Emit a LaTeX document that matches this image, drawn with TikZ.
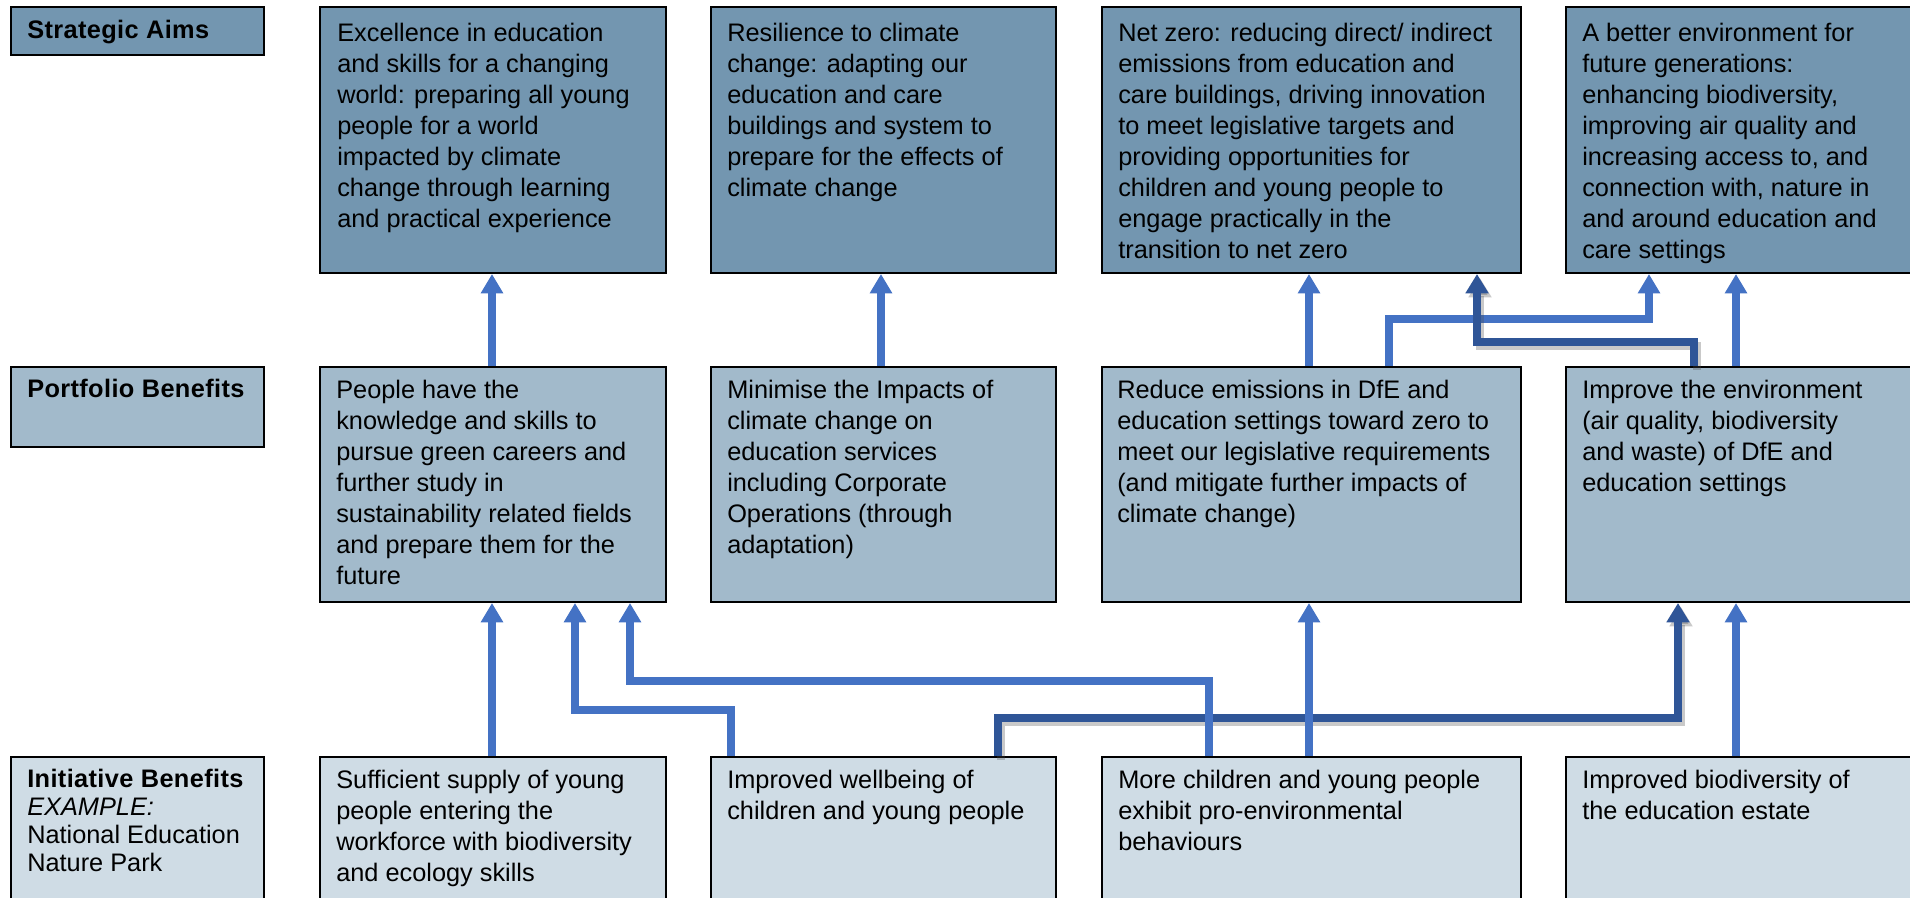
\documentclass[tikz,border=0pt]{standalone}
\usepackage{fontspec}
\setmainfont{Liberation Sans}
\usetikzlibrary{arrows.meta,calc,fit}
\definecolor{saC}{HTML}{7396B0}
\definecolor{pbC}{HTML}{A2BACB}
\definecolor{ibC}{HTML}{CFDCE5}
\definecolor{ltC}{HTML}{4472C4}
\definecolor{dkC}{HTML}{2F5597}
\begin{document}
\begin{tikzpicture}[x=0.75pt,y=-0.75pt,
  box/.style={draw=black, line width=1.5pt, inner sep=0pt, rectangle},
  txt/.style={anchor=north west, inner sep=0pt, align=left, font=\fontsize{19pt}{23.25pt}\selectfont},
  lbl/.style={anchor=north west, inner sep=0pt, align=left, font=\fontsize{19pt}{21pt}\selectfont},
  lt/.style={draw=ltC, line width=5.5pt, -{Triangle[width=16pt,length=14.5pt]}},
  dk/.style={draw=dkC, line width=6pt, -{Triangle[width=16.5pt,length=14.5pt]}},
  dksh/.style={draw=black!70, opacity=0.3, line width=6pt, -{Triangle[width=16.5pt,length=14.5pt]}, transform canvas={shift={(3,4)}}}
]
\useasboundingbox (0,0) rectangle (1910,898);
\clip (0,0) rectangle (1910,898);

% label boxes
\node[box, fill=saC, fit={(11,7) (264,55)}] (lsa) {};
\node[box, fill=pbC, fit={(11,367) (264,447)}] (lpb) {};
\node[box, fill=ibC, fit={(11,757) (264,915)}] (lib) {};
\node[lbl] (tlsa) at ($(lsa.north west)+(17,13)$) {\strut\textbf{\addfontfeature{LetterSpace=1.5}Strategic Aims}};
\node[lbl] (tlpb) at ($(lpb.north west)+(17,12)$) {\strut\textbf{\addfontfeature{LetterSpace=1.5}Portfolio Benefits}};
\node[lbl] (tlib) at ($(lib.north west)+(17,12)$) {\strut\textbf{\addfontfeature{LetterSpace=1.5}Initiative Benefits}\\\textit{EXAMPLE:}\\National Education\\Nature Park};

% strategic aims
\node[box, fill=saC, fit={(320,7) (666,273)}] (sa1) {};
\node[box, fill=saC, fit={(711,7) (1056,273)}] (sa2) {};
\node[box, fill=saC, fit={(1102,7) (1521,273)}] (sa3) {};
\node[box, fill=saC, fit={(1566,7) (1930,273)}] (sa4) {};
% portfolio benefits
\node[box, fill=pbC, fit={(320,367) (666,602)}] (pb1) {};
\node[box, fill=pbC, fit={(711,367) (1056,602)}] (pb2) {};
\node[box, fill=pbC, fit={(1102,367) (1521,602)}] (pb3) {};
\node[box, fill=pbC, fit={(1566,367) (1930,602)}] (pb4) {};
% initiative benefits
\node[box, fill=ibC, fit={(320,757) (666,915)}] (ib1) {};
\node[box, fill=ibC, fit={(711,757) (1056,915)}] (ib2) {};
\node[box, fill=ibC, fit={(1102,757) (1521,915)}] (ib3) {};
\node[box, fill=ibC, fit={(1566,757) (1930,915)}] (ib4) {};

% texts
\node[txt] (tsa1) at ($(sa1.north west)+(18,14)$) {\strut Excellence in education\\and skills for a changing\\world: preparing all young\\people for a world\\impacted by climate\\change through learning\\and practical experience};
\node[txt] (tsa2) at ($(sa2.north west)+(17,14)$) {\strut Resilience to climate\\change: adapting our\\education and care\\buildings and system to\\prepare for the effects of\\climate change};
\node[txt] (tsa3) at ($(sa3.north west)+(17,14)$) {\strut Net zero: reducing direct/ indirect\\emissions from education and\\care buildings, driving innovation\\to meet legislative targets and\\providing opportunities for\\children and young people to\\engage practically in the\\transition to net zero};
\node[txt] (tsa4) at ($(sa4.north west)+(17,14)$) {\strut A better environment for\\future generations:\\enhancing biodiversity,\\improving air quality and\\increasing access to, and\\connection with, nature in\\and around education and\\care settings};

\node[txt] (tpb1) at ($(pb1.north west)+(17,11)$) {\strut People have the\\knowledge and skills to\\pursue green careers and\\further study in\\sustainability related fields\\and prepare them for the\\future};
\node[txt] (tpb2) at ($(pb2.north west)+(17,11)$) {\strut Minimise the Impacts of\\climate change on\\education services\\including Corporate\\Operations (through\\adaptation)};
\node[txt] (tpb3) at ($(pb3.north west)+(16,11)$) {\strut Reduce emissions in DfE and\\education settings toward zero to\\meet our legislative requirements\\(and mitigate further impacts of\\climate change)};
\node[txt] (tpb4) at ($(pb4.north west)+(17,11)$) {\strut Improve the environment\\(air quality, biodiversity\\and waste) of DfE and\\education settings};

\node[txt] (tib1) at ($(ib1.north west)+(17,11)$) {\strut Sufficient supply of young\\people entering the\\workforce with biodiversity\\and ecology skills};
\node[txt] (tib2) at ($(ib2.north west)+(17,11)$) {\strut Improved wellbeing of\\children and young people};
\node[txt] (tib3) at ($(ib3.north west)+(17,11)$) {\strut More children and young people\\exhibit pro-environmental\\behaviours};
\node[txt] (tib4) at ($(ib4.north west)+(17,11)$) {\strut Improved biodiversity of\\the education estate};

% bottom connectors: dark first
\draw[dksh] ($(ib2.north west)+(288,0)$) -- ++(0,-38) -| ($(pb4.south west)+(113,0)$);
\draw[dk] ($(ib2.north west)+(288,0)$) -- ++(0,-38) -| ($(pb4.south west)+(113,0)$);
\draw[lt] ($(ib1.north west)+(173,0)$) -- ($(pb1.south west)+(173,0)$);
\draw[lt] ($(ib2.north west)+(21,0)$) -- ++(0,-46) -| ($(pb1.south west)+(256,0)$);
\draw[lt] ($(ib3.north west)+(108,0)$) -- ++(0,-75) -| ($(pb1.south west)+(311,0)$);
\draw[lt] ($(ib3.north west)+(208,0)$) -- ($(pb3.south west)+(208,0)$);
\draw[lt] ($(ib4.north west)+(171,0)$) -- ($(pb4.south west)+(171,0)$);

% top connectors: light first
\draw[lt] ($(pb1.north west)+(173,0)$) -- ($(sa1.south west)+(173,0)$);
\draw[lt] ($(pb2.north west)+(171,0)$) -- ($(sa2.south west)+(171,0)$);
\draw[lt] ($(pb3.north west)+(208,0)$) -- ($(sa3.south west)+(208,0)$);
\draw[lt] ($(pb3.north west)+(288,0)$) -- ++(0,-47) -| ($(sa4.south west)+(84,0)$);
\draw[lt] ($(pb4.north west)+(171,0)$) -- ($(sa4.south west)+(171,0)$);
\draw[dksh] ($(pb4.north west)+(129,0)$) -- ++(0,-24) -| ($(sa3.south west)+(376,0)$);
\draw[dk] ($(pb4.north west)+(129,0)$) -- ++(0,-24) -| ($(sa3.south west)+(376,0)$);
\end{tikzpicture}
\end{document}
